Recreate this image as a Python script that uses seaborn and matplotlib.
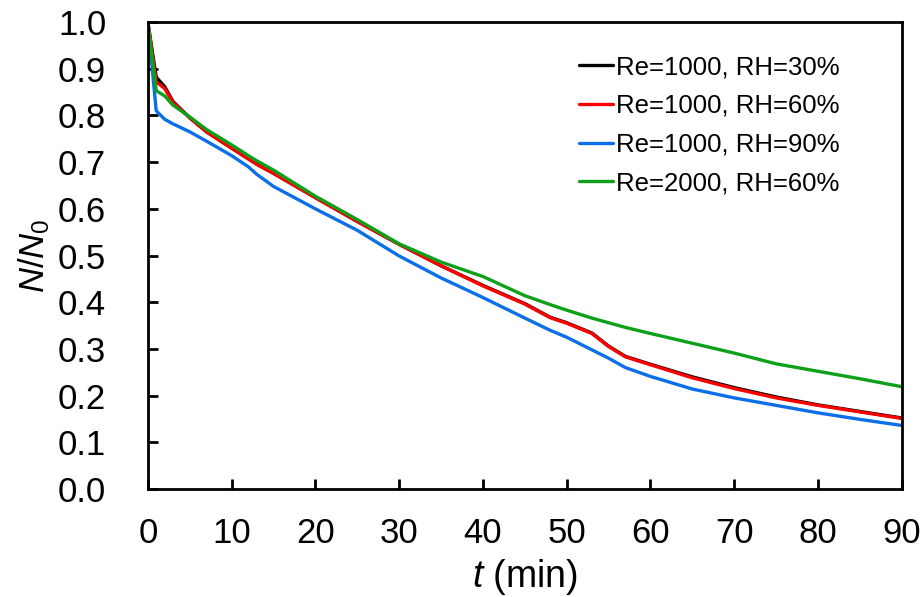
import numpy as np
import pandas as pd
import seaborn as sns
import matplotlib
matplotlib.use("Agg")
import matplotlib.pyplot as plt

# %%
# values
t_min = [0, 1, 2, 3, 5, 7, 10, 12, 13, 15, 20, 25, 30, 35, 40, 45, 48, 50, 53, 55, 57, 60, 65, 70, 75, 80, 85, 90]

re1000_rh30 = [1.0, 0.882, 0.862, 0.83, 0.795, 0.765, 0.73, 0.707, 0.696, 0.676, 0.624, 0.573, 0.524, 0.478, 0.436,
               0.397, 0.368, 0.356, 0.334, 0.306, 0.284, 0.267, 0.240, 0.217, 0.197, 0.180, 0.166, 0.152]
re1000_rh60 = [1.0, 0.872, 0.858, 0.828, 0.795, 0.765, 0.73, 0.707, 0.695, 0.676, 0.624, 0.573, 0.524, 0.478, 0.435,
               0.396, 0.367, 0.355, 0.333, 0.305, 0.283, 0.266, 0.238, 0.215, 0.195, 0.179, 0.165, 0.151]
re1000_rh90 = [1.0, 0.81, 0.792, 0.782, 0.765, 0.745, 0.714, 0.690, 0.674, 0.648, 0.600, 0.554, 0.499, 0.452, 0.410,
               0.366, 0.340, 0.325, 0.298, 0.280, 0.260, 0.241, 0.214, 0.195, 0.179, 0.163, 0.149, 0.136]
re2000_rh60 = [1.0, 0.853, 0.842, 0.822, 0.797, 0.770, 0.737, 0.714, 0.703, 0.683, 0.627, 0.577, 0.525, 0.486, 0.455,
               0.414, 0.395, 0.383, 0.366, 0.356, 0.346, 0.333, 0.312, 0.291, 0.268, 0.252, 0.236, 0.219]

labels = ["Re=1000, RH=30%", "Re=1000, RH=60%", "Re=1000, RH=90%", "Re=2000, RH=60%"]
colors = ["#000000", "#ff0000", "#0a6fe8", "#0fa01a"]

# %%
frames = []
for lab, vals in zip(labels, [re1000_rh30, re1000_rh60, re1000_rh90, re2000_rh60]):
    frames.append(pd.DataFrame({"t": t_min, "ratio": vals, "case": lab}))
df = pd.concat(frames, ignore_index=True)

sns.set_style("ticks", {"axes.edgecolor": "black", "text.color": "black", "axes.labelcolor": "black",
                        "xtick.color": "black", "ytick.color": "black"})
plt.rcParams["font.family"] = ["Liberation Sans", "DejaVu Sans"]
plt.rcParams["mathtext.fontset"] = "custom"
plt.rcParams["mathtext.rm"] = "Liberation Sans"
plt.rcParams["mathtext.it"] = "Liberation Sans:italic"

fig = plt.figure(figsize=(9.24, 5.97), dpi=100)
ax = fig.add_axes([0.160, 0.181, 0.816, 0.782])

sns.lineplot(data=df, x="t", y="ratio", hue="case", hue_order=labels,
             palette=dict(zip(labels, colors)), linewidth=2.4, ax=ax)

ax.set_xlim(0, 90)
ax.set_ylim(0, 1.0)
ax.set_xticks(np.arange(0, 91, 10))
ax.set_yticks(np.arange(0, 1.01, 0.1))
ax.set_yticklabels(["{:.1f}".format(v) for v in np.arange(0, 1.01, 0.1)])
ax.tick_params(axis="both", direction="in", length=7.5, width=2, labelsize=25)
ax.tick_params(axis="x", pad=20)
ax.tick_params(axis="y", pad=30)
for sp in ax.spines.values():
    sp.set_linewidth(2)
    sp.set_visible(True)

ax.set_xlabel(r"$t$ (min)", fontsize=27, labelpad=5)
ax.set_ylabel(r"$N$/$N_0$", fontsize=25, labelpad=4)

leg = ax.legend(loc="upper right", frameon=False, fontsize=18.5, handlelength=1.3,
                handletextpad=0.12, labelspacing=0.57, borderpad=0, borderaxespad=0,
                bbox_to_anchor=(0.917, 0.929))
for line in leg.get_lines():
    line.set_linewidth(2.4)

fig.savefig("out.png", dpi=100)
